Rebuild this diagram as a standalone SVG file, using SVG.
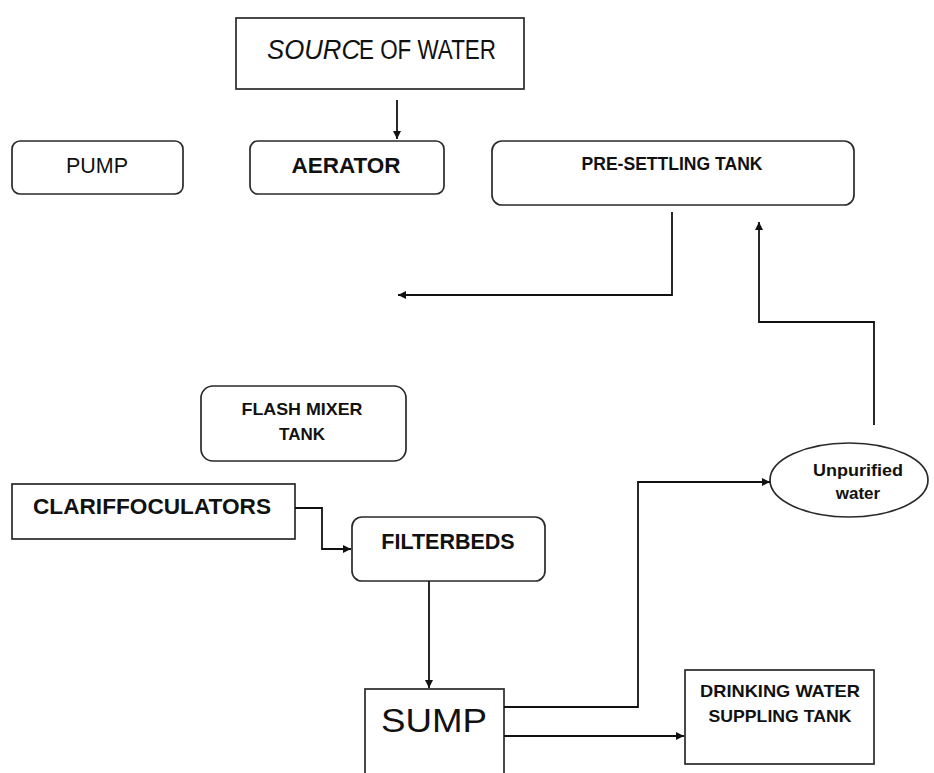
<svg xmlns="http://www.w3.org/2000/svg" width="934" height="773" viewBox="0 0 934 773">
<style>
  .box { fill: #fff; stroke: #2a2a2a; stroke-width: 1.7; }
  .t { font-family: "Liberation Sans", Arial, sans-serif; fill: #111; }
  .b { font-weight: bold; }
  .c { text-anchor: middle; }
  .ln { fill: none; stroke: #111; stroke-width: 1.8; }
</style>
<defs>
  <marker id="ah" viewBox="0 0 10 10" refX="10" refY="5" markerWidth="9" markerHeight="8" markerUnits="userSpaceOnUse" orient="auto">
    <path d="M0,0 L10,5 L0,10 z" fill="#111"/>
  </marker>
</defs>
<rect width="934" height="773" fill="#fff"/>

<g id="source">
  <rect class="box" x="236" y="18" width="288" height="71"/>
  <text class="t" x="267" y="59" font-size="27" font-style="italic" textLength="93" lengthAdjust="spacingAndGlyphs">SOURC</text>
  <text class="t" x="359" y="59" font-size="27" textLength="137" lengthAdjust="spacingAndGlyphs">E OF WATER</text>
</g>
<g id="pump">
  <rect class="box" x="12" y="141" width="171" height="53" rx="8"/>
  <text class="t c" x="97" y="173" font-size="21.5">PUMP</text>
</g>
<g id="aerator">
  <rect class="box" x="250" y="141" width="194" height="53" rx="8"/>
  <text class="t b c" x="346" y="173" font-size="22.5">AERATOR</text>
</g>
<g id="presettling">
  <rect class="box" x="492" y="141" width="362" height="64" rx="10"/>
  <text class="t b c" x="672" y="170" font-size="17.5" textLength="181" lengthAdjust="spacingAndGlyphs">PRE-SETTLING TANK</text>
</g>
<g id="flashmixer">
  <rect class="box" x="201" y="386" width="205" height="75" rx="12"/>
  <text class="t b c" x="302" y="415" font-size="17" textLength="121" lengthAdjust="spacingAndGlyphs">FLASH MIXER</text>
  <text class="t b c" x="302" y="440" font-size="17">TANK</text>
</g>
<g id="clariffoculators">
  <rect class="box" x="12" y="484" width="283" height="55"/>
  <text class="t b" x="33" y="514" font-size="22" textLength="238" lengthAdjust="spacingAndGlyphs">CLARIFFOCULATORS</text>
</g>
<g id="filterbeds">
  <rect class="box" x="352" y="517" width="193" height="64" rx="10"/>
  <text class="t b c" x="448" y="549" font-size="21.5">FILTERBEDS</text>
</g>
<g id="unpurified">
  <ellipse class="box" cx="849" cy="480" rx="79" ry="37"/>
  <text class="t b c" x="858" y="476" font-size="17" textLength="90" lengthAdjust="spacingAndGlyphs">Unpurified</text>
  <text class="t b c" x="858" y="499" font-size="17">water</text>
</g>
<g id="sump">
  <rect class="box" x="365" y="689" width="139" height="90"/>
  <text class="t c" x="434" y="732" font-size="34" textLength="106" lengthAdjust="spacingAndGlyphs">SUMP</text>
</g>
<g id="drinking">
  <rect class="box" x="685" y="670" width="189" height="94"/>
  <text class="t b c" x="780" y="697" font-size="17" textLength="160" lengthAdjust="spacingAndGlyphs">DRINKING WATER</text>
  <text class="t b c" x="780" y="722" font-size="17" textLength="143" lengthAdjust="spacingAndGlyphs">SUPPLING TANK</text>
</g>

<g id="connectors">
  <path class="ln" d="M397,100 V139" marker-end="url(#ah)"/>
  <path class="ln" d="M672,212 V295 H398" marker-end="url(#ah)"/>
  <path class="ln" d="M874,425 V322 H759 V222" marker-end="url(#ah)"/>
  <path class="ln" d="M295,508 H322 V549 H351" marker-end="url(#ah)"/>
  <path class="ln" d="M429,581 V688" marker-end="url(#ah)"/>
  <path class="ln" d="M504,707 H638 V482 H770" marker-end="url(#ah)"/>
  <path class="ln" d="M504,736 H684" marker-end="url(#ah)"/>
</g>
</svg>
